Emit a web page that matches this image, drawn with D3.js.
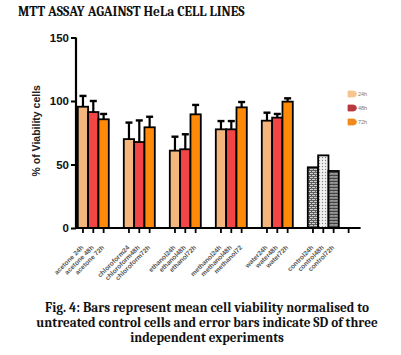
<!DOCTYPE html>
<html><head><meta charset="utf-8">
<script src="https://cdn.jsdelivr.net/npm/d3@7"></script>
<style>body{margin:0;background:#fff}svg{display:block}</style>
</head><body>
<script>
const groups = ["acetone","chloroform","ethanol","methanol","water","control"];
const series = ["24h","48h","72h"];
const labels = [
  ["acetone 24h","acetone 48h","acetone 72h"],
  ["chloroform24","chloroform48h","chloroform72h"],
  ["ethanol24h","ethanol48h","ethanol72h"],
  ["methanol24h","methanol48h","methanol72"],
  ["water24h","water48h","water72h"],
  ["control24h","control48h","control72h"]
];
const means = [
  [95.5, 91.3, 85.6],
  [70.0, 67.7, 79.3],
  [60.9, 62.0, 89.5],
  [77.7, 77.7, 95.0],
  [84.5, 86.9, 99.5],
  [47.8, 57.2, 44.9]
];
const sds = [
  [8.5, 8.7, 4.2],
  [13.0, 17.0, 8.3],
  [11.0, 11.8, 7.4],
  [6.5, 6.5, 4.2],
  [6.3, 2.9, 2.6],
  [0, 0, 0]
];
const yTicks = [0, 50, 100, 150];
const colors = ["#F5B67E", "#F24646", "#FF8A0A"];
const legendColors = ["#F7C38F", "#B8393F", "#F08A1C"];
const title = "MTT ASSAY AGAINST HeLa CELL LINES";
const caption = [
  "Fig. 4: Bars represent mean cell viability normalised to",
  "untreated control cells and error bars indicate SD of three",
  "independent experiments"
];

const W = 401, H = 355;
const svg = d3.select("body").append("svg").attr("width", W).attr("height", H);
const defs = svg.append("defs");

// patterns for control bars
const p1 = defs.append("pattern").attr("id","pat0").attr("patternUnits","userSpaceOnUse").attr("width",4).attr("height",4);
p1.append("rect").attr("width",4).attr("height",4).attr("fill","#d0d0d0");
p1.append("path").attr("d","M0,0.5H4M0,2.5H4M1.5,0.5V2.5M3.5,2.5V4.5").attr("stroke","#555").attr("stroke-width",0.9);
const p2 = defs.append("pattern").attr("id","pat1").attr("patternUnits","userSpaceOnUse").attr("width",3).attr("height",3);
p2.append("rect").attr("width",3).attr("height",3).attr("fill","#f2f2f2");
p2.append("circle").attr("cx",1.5).attr("cy",1.5).attr("r",0.7).attr("fill","#888");
const p3 = defs.append("pattern").attr("id","pat2").attr("patternUnits","userSpaceOnUse").attr("width",4).attr("height",3);
p3.append("rect").attr("width",4).attr("height",3).attr("fill","#bdbdbd");
p3.append("path").attr("d","M0,2.5L1,0.5L2,2.5L3,0.5L4,2.5").attr("stroke","#333").attr("stroke-width",0.9).attr("fill","none");

const y = d3.scaleLinear().domain([0,150]).range([228, 37.5]);
const x0 = d3.scaleBand().domain(groups).range([77.8, 338.8]).paddingInner(15/46).paddingOuter(0);
const x1 = d3.scaleBand().domain(series).range([0, x0.bandwidth()]).padding(0);
const axisX = 76;

// bars
groups.forEach((g, gi) => {
  series.forEach((s, si) => {
    const bx = x0(g) + x1(s);
    const fill = g === "control" ? `url(#pat${si})` : colors[si];
    if (sds[gi][si] > 0) {
      const cx = bx + x1.bandwidth()/2;
      svg.append("line").attr("x1",cx).attr("x2",cx)
        .attr("y1",y(means[gi][si])).attr("y2",y(means[gi][si]+sds[gi][si]))
        .attr("stroke","#000").attr("stroke-width",2.2);
      svg.append("line").attr("x1",cx-3.5).attr("x2",cx+3.5)
        .attr("y1",y(means[gi][si]+sds[gi][si])).attr("y2",y(means[gi][si]+sds[gi][si]))
        .attr("stroke","#000").attr("stroke-width",2.4);
    }
    svg.append("rect").attr("x",bx).attr("width",x1.bandwidth())
      .attr("y",y(means[gi][si])).attr("height",y(0)-y(means[gi][si]))
      .attr("fill",fill).attr("stroke","#000").attr("stroke-width",1.8);
  });
});

// y axis
const yAxis = svg.append("g").attr("transform",`translate(${axisX},0)`)
  .call(d3.axisLeft(y).tickValues(yTicks).tickSize(5).tickPadding(2));
yAxis.select(".domain").attr("stroke","#000").attr("stroke-width",2.2).attr("d",`M0,${y(150)}V${y(0)}`);
yAxis.selectAll(".tick line").attr("stroke","#000").attr("stroke-width",2);
yAxis.selectAll(".tick text").attr("font-family","Liberation Sans, Arial, sans-serif")
  .attr("font-weight","bold").attr("font-size",11.5).attr("fill","#111");

// x axis
const lastCenter = x0(groups[groups.length-1]) + x1(series[2]) + x1.bandwidth()/2;
const extraTick = lastCenter + x1.step()*1.45;
svg.append("line").attr("x1",axisX-1).attr("x2",extraTick+12).attr("y1",y(0)).attr("y2",y(0))
  .attr("stroke","#000").attr("stroke-width",2.2);
const xg = svg.append("g");
groups.forEach((g, gi) => {
  series.forEach((s, si) => {
    const cx = x0(g) + x1(s) + x1.bandwidth()/2;
    xg.append("line").attr("x1",cx).attr("x2",cx).attr("y1",y(0)).attr("y2",y(0)+5)
      .attr("stroke","#000").attr("stroke-width",1.8);
    xg.append("text").attr("transform",`translate(${cx+1},${y(0)+20}) rotate(-45)`)
      .attr("text-anchor","end").attr("font-family","Liberation Sans, Arial, sans-serif")
      .attr("font-weight","bold").attr("font-size",6.6).attr("fill","#555").text(labels[gi][si]);
  });
});
xg.append("line").attr("x1",extraTick).attr("x2",extraTick).attr("y1",y(0)).attr("y2",y(0)+5)
  .attr("stroke","#000").attr("stroke-width",1.8);

// y axis title
svg.append("text").attr("transform",`translate(40,${(y(0)+y(150))/2 - 2}) rotate(-90)`)
  .attr("text-anchor","middle").attr("font-family","Liberation Sans, Arial, sans-serif")
  .attr("font-weight","bold").attr("font-size",10.5).attr("fill","#222").text("% of Viability cells");

// legend
const lg = svg.append("g");
series.forEach((s, si) => {
  const ly = 94 + si*14;
  lg.append("path").attr("d",`M348,${ly-3}H353.5Q356,${ly-3} 356.5,${ly}Q356,${ly+3} 353.5,${ly+3}H348Z`)
    .attr("fill",legendColors[si]).attr("stroke",legendColors[si]).attr("stroke-width",0.8);
  lg.append("text").attr("x",358).attr("y",ly+2).attr("font-family","Liberation Sans, Arial, sans-serif")
    .attr("font-size",5.5).attr("fill","#777").text(s);
});

// title
const serif = "Cambria, 'Liberation Serif', 'DejaVu Serif', serif";
const t = svg.append("text").attr("x",18).attr("y",16).attr("font-family",serif)
  .attr("font-weight","bold").attr("font-size",13).attr("fill","#111").text(title);
const tw = t.node().getComputedTextLength();
t.attr("font-size", 13*227/tw);

// caption
const c0 = svg.append("text").attr("font-family",serif).attr("font-weight","bold").attr("font-size",13).text(caption[0]);
const cw = c0.node().getComputedTextLength();
c0.remove();
const cfs = 13*324/cw;
caption.forEach((line, i) => {
  svg.append("text").attr("x",207).attr("y",312 + i*15).attr("text-anchor","middle")
    .attr("font-family",serif).attr("font-weight","bold").attr("font-size",cfs).attr("fill","#111").text(line);
});
</script>
</body></html>
